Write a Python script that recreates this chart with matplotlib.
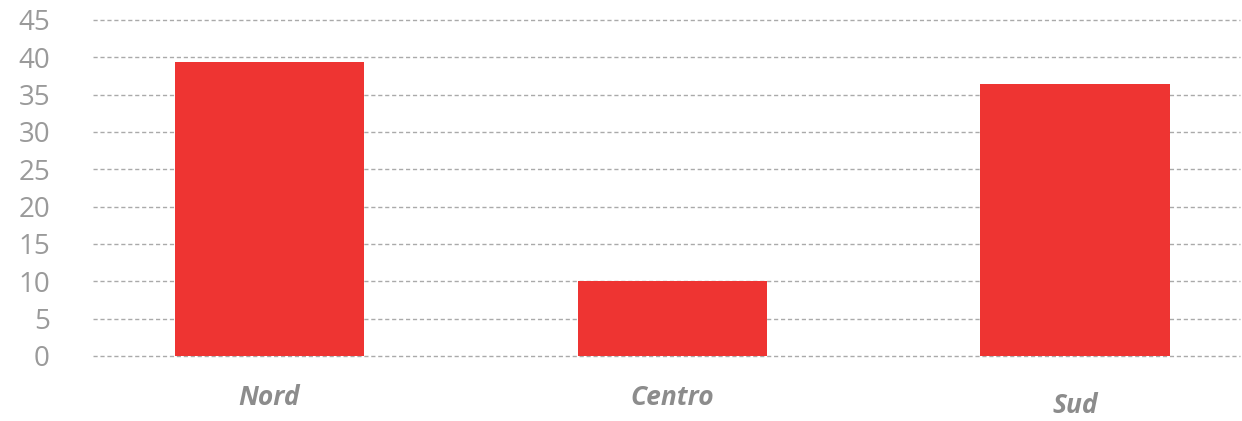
import numpy as np
import matplotlib.pyplot as plt

regions = ['Nord', 'Centro', 'Sud']
values = [39.4, 10.0, 36.4]
yticks = [0, 5, 10, 15, 20, 25, 30, 35, 40, 45]

fig = plt.figure(figsize=(12.42, 4.21), dpi=100)
ax = fig.add_axes([0.0749, 0.1544, 0.9231, 0.7981])

x = np.arange(len(regions))
ax.bar(x, values, 0.47, color='#ee3432', zorder=3)

ax.set_ylim(0, 45)
ax.set_xlim(-0.438, 2.408)
ax.set_yticks(yticks)
ax.set_yticklabels([str(v) for v in yticks], fontsize=20, color='#9a9a9a',
                   family=['Open Sans', 'DejaVu Sans'])
ax.tick_params(axis='y', length=0, pad=31)
ax.set_xticks([])
ax.yaxis.grid(True, linestyle=(0, (3, 2)), color='#aaaaaa', linewidth=1, zorder=0)
ax.set_axisbelow(True)
for gl in ax.get_ygridlines():
    gl.set_clip_on(False)
for s in ax.spines.values():
    s.set_visible(False)

# category labels, Sud sits a bit lower in the original
for i, name in enumerate(regions):
    off = 50 if name == 'Sud' else 42
    ax.annotate(name, xy=(i, 0), xycoords=('data', 'axes fraction'),
                xytext=(0, -off), textcoords='offset pixels',
                ha='center', va='center', fontsize=19, fontweight='bold',
                fontstyle='italic', color='#8c8c8c',
                family=['Open Sans', 'DejaVu Sans'])

fig.savefig('out.png', dpi=100)
